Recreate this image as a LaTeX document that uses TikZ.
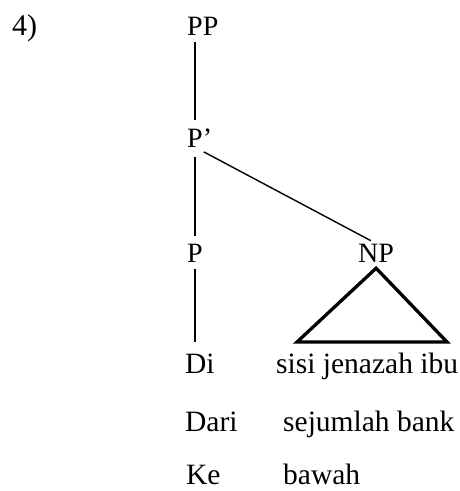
\documentclass[tikz,border=0pt]{standalone}
\usepackage{fontspec}
\setmainfont{Liberation Serif}
\usetikzlibrary{positioning}

\tikzset{
  lbl/.style={anchor=base west, inner sep=0pt, font=\fontsize{28}{34}\selectfont},
  word/.style={anchor=base west, inner sep=0pt, font=\fontsize{29.5}{35}\selectfont},
  branch/.style={line width=1.4pt},
  tri/.style={line width=3.3pt, line join=miter}
}

\begin{document}
\begin{tikzpicture}[x=1pt, y=-1pt]
  \useasboundingbox (0,0) rectangle (460,491);

  \node[word, font=\fontsize{30}{36}\selectfont] (num) at (12,35) {4)};

  % tree labels
  \node[lbl] (pp) at (187,35) {PP};
  \node[lbl] (pbar) at (187,147) {P’};
  \node[lbl] (p) at (187,262) {P};
  \node[lbl] (np) at (358,262) {NP};

  % words
  \node[word] (di) at (185,373) {Di};
  \node[word] (sisi) at (276,373) {sisi jenazah ibu};
  \node[word] (dari) at (185,431) {Dari};
  \node[word] (sejumlah) at (283,431) {sejumlah bank};
  \node[word] (ke) at (186,484) {Ke};
  \node[word] (bawah) at (283,484) {bawah};

  \coordinate (tl) at (297,342);
  \coordinate (tr) at (447,342);

  \draw[branch, shorten <=7pt, shorten >=8pt] (pp.south -| p.north) -- (pbar.north -| p.north);
  \draw[branch, shorten <=10pt, shorten >=7pt] (pbar.south -| p.north) -- (p.north);
  \draw[branch, shorten <=10pt, shorten >=6pt] (pbar.south -| p.north) -- (np.north);
  \draw[branch, shorten <=7pt] (p.south) -- (p.south |- tl);
  \draw[tri] (np.south) ++(0,6) -- (tr) -- (tl) -- cycle;
\end{tikzpicture}
\end{document}
